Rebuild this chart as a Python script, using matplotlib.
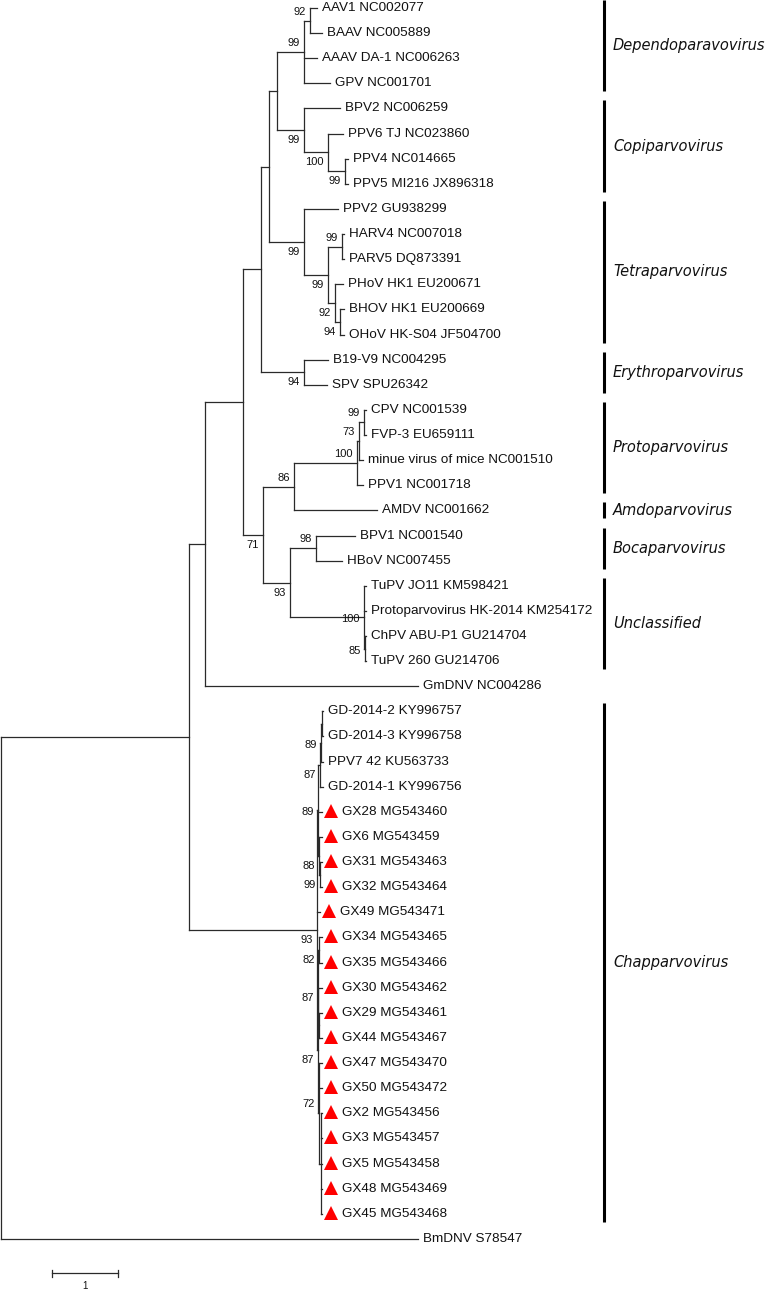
import matplotlib
matplotlib.use("Agg")
import matplotlib.pyplot as plt
from matplotlib.collections import LineCollection

# ---------------- data ----------------
# Tree in Newick format: branch lengths (substitutions/site),
# bootstrap supports as internal node labels.
NEWICK = (
    "(("
    "("
    "("
    "("
    "("
    "("
    "(('AAV1 NC002077':0.11,'BAAV NC005889':0.18)92:0.09,'AAAV DA-1 NC006263':0.20,'GPV NC001701':0.39)99:0.41,"
    "('BPV2 NC006259':0.55,('PPV6 TJ NC023860':0.23,('PPV4 NC014665':0.045,'PPV5 MI216 JX896318':0.045)99:0.26)100:0.36)99:0.41"
    "):0.12,"
    "('PPV2 GU938299':0.52,(('HARV4 NC007018':0.03,'PARV5 DQ873391':0.03)99:0.21,"
    "('PHoV HK1 EU200671':0.12,('BHOV HK1 EU200669':0.06,'OHoV HK-S04 JF504700':0.06)94:0.08)92:0.11)99:0.36)99:0.53"
    "):0.12,"
    "('B19-V9 NC004295':0.36,'SPV SPU26342':0.35)94:0.65"
    "):0.27,"
    "("
    "(((('CPV NC001539':0.03,'FVP-3 EU659111':0.03)99:0.08,'minue virus of mice NC001510':0.06)73:0.03,"
    "'PPV1 NC001718':0.09)100:0.95,'AMDV NC001662':1.26)86:0.47,"
    "(('BPV1 NC001540':0.59,'HBoV NC007455':0.39)98:0.39,"
    "('TuPV JO11 KM598421':0.03,'Protoparvovirus HK-2014 KM254172':0.03,"
    "('ChPV ABU-P1 GU214704':0.015,'TuPV 260 GU214706':0.015)85:0.015)100:1.12)93:0.41"
    ")71:0.30"
    "):0.58,"
    "'GmDNV NC004286':3.23"
    "):0.24,"
    "("
    "(((('GD-2014-2 KY996757':0.02,'GD-2014-3 KY996758':0.02):0.01,'PPV7 42 KU563733':0.03)89:0.015,"
    "'GD-2014-1 KY996756':0.045)87:0.03,"
    "'GX28 MG543460':0.06,('GX6 MG543459':0.045,('GX31 MG543463':0.03,'GX32 MG543464':0.03)99:0.015)88:0.015)89:0.015,"
    "'GX49 MG543471':0.045,"
    "((('GX34 MG543465':0.045,'GX35 MG543466':0.045)82:0.015,'GX30 MG543462':0.06,"
    "('GX29 MG543461':0.045,'GX44 MG543467':0.045):0.015)87:0.008,"
    "('GX47 MG543470':0.045,'GX50 MG543472':0.045,"
    "('GX2 MG543456':0.023,'GX3 MG543457':0.023,'GX5 MG543458':0.023,'GX48 MG543469':0.023,"
    "'GX45 MG543468':0.023):0.023)72:0.023)87:0.008"
    ")93:1.94"
    "):2.85,'BmDNV S78547':6.32);"
)

NEW_ISOLATES = ["GX28", "GX6", "GX31", "GX32", "GX49", "GX34", "GX35", "GX30", "GX29",
                "GX44", "GX47", "GX50", "GX2", "GX3", "GX5", "GX48", "GX45"]

CLADE_NAMES = ["Dependoparavovirus", "Copiparvovirus", "Tetraparvovirus", "Erythroparvovirus",
               "Protoparvovirus", "Amdoparvovirus", "Bocaparvovirus", "Unclassified", "Chapparvovirus"]
CLADE_FIRST = ["AAV1 NC002077", "BPV2 NC006259", "PPV2 GU938299", "B19-V9 NC004295",
               "CPV NC001539", "AMDV NC001662", "BPV1 NC001540", "TuPV JO11 KM598421",
               "GD-2014-2 KY996757"]
CLADE_LAST = ["GPV NC001701", "PPV5 MI216 JX896318", "OHoV HK-S04 JF504700", "SPV SPU26342",
              "PPV1 NC001718", "AMDV NC001662", "HBoV NC007455", "TuPV 260 GU214706",
              "GX45 MG543468"]

SCALE_LEN = 1
SCALE_LABEL = "1"

# support-label placement (style): keyed by first/last leaf token of node
ABOVE = {("AAV1", "BAAV"), ("AAV1", "GPV"), ("HARV4", "PARV5"), ("CPV", "FVP-3"),
         ("CPV", "minue"), ("CPV", "PPV1"), ("CPV", "AMDV"), ("BPV1", "HBoV"),
         ("GX47", "GX45")}
MID = {("TuPV", "TuPV"), ("ChPV", "TuPV"), ("GD-2014-2", "PPV7"), ("GD-2014-2", "GX32")}


# ---------------- parse ----------------
def parse_newick(s):
    pos = 0
    n_s = len(s)

    def node():
        nonlocal pos
        children = []
        if s[pos] == "(":
            pos += 1
            while True:
                children.append(node())
                if pos >= n_s:
                    raise ValueError("unbalanced newick")
                if s[pos] == ",":
                    pos += 1
                    continue
                if s[pos] == ")":
                    pos += 1
                    break
                raise ValueError("bad newick at %d: %r" % (pos, s[pos]))
        if s[pos] == "'":
            end = s.index("'", pos + 1)
            name = s[pos + 1:end]
            pos = end + 1
        else:
            st = pos
            while s[pos] not in ":,();":
                pos += 1
            name = s[st:pos]
        bl = 0.0
        if s[pos] == ":":
            pos += 1
            st = pos
            while s[pos] not in ",();":
                pos += 1
            bl = float(s[st:pos])
        return {"name": name, "bl": bl, "children": children}

    return node()


tree = parse_newick(NEWICK)

leaves = []


def layout(n, x0):
    n["x"] = x0 + n["bl"]
    if not n["children"]:
        n["y"] = len(leaves)
        leaves.append(n)
    else:
        for c in n["children"]:
            layout(c, n["x"])
        n["y"] = (n["children"][0]["y"] + n["children"][-1]["y"]) / 2
        c0, c1 = n["children"][0], n["children"][-1]
        n["first"] = c0["first"] if c0["children"] else c0["name"]
        n["last"] = c1["last"] if c1["children"] else c1["name"]


tree["bl"] = 0.0
layout(tree, 0.0)
leaf_y = {lf["name"]: lf["y"] for lf in leaves}

# ---------------- figure ----------------
W, H = 768, 1289
PXU = 66.0      # pixels per substitution unit
X0 = 1.0        # root x in pixels
Y0 = 8.0        # first leaf y in pixels
DY = 25.12      # pixels per leaf

fig = plt.figure(figsize=(W / 100, H / 100), dpi=100)
ax = fig.add_axes([0, 0, 1, 1])
ax.axis("off")
ax.set_xlim(-X0 / PXU, (W - X0) / PXU)
ax.set_ylim((H - Y0) / DY, -Y0 / DY)


def px(p):
    return p / PXU


def py(p):
    return p / DY


LINE_C = "#2a2a2a"
TEXT_C = "#111111"
segs = []


def draw(n, parent_x):
    if parent_x is not None:
        segs.append([(parent_x, n["y"]), (n["x"], n["y"])])
    if n["children"]:
        segs.append([(n["x"], n["children"][0]["y"]), (n["x"], n["children"][-1]["y"])])
        for c in n["children"]:
            draw(c, n["x"])
        if n["name"]:
            key = (n["first"].split()[0], n["last"].split()[0])
            if key in ABOVE:
                off = -9
            elif key in MID:
                off = 2
            else:
                off = 10
            ax.text(n["x"] - px(4), n["y"] + py(off), n["name"], ha="right", va="center",
                    fontsize=8, family="Liberation Sans", color=TEXT_C)
    else:
        tag = n["name"].split()[0]
        if tag in NEW_ISOLATES:
            ax.plot(n["x"] + px(9), n["y"] + py(-1), marker="^", color="#ff0000", markersize=9.5,
                    markeredgewidth=0, linestyle="none")
            lx = n["x"] + px(20)
        else:
            lx = n["x"] + px(5)
        ax.text(lx, n["y"], n["name"], ha="left", va="center", fontsize=9.7,
                family="Liberation Sans", color=TEXT_C)


draw(tree, None)
ax.add_collection(LineCollection(segs, colors=LINE_C, linewidths=0.9, capstyle="projecting"))

# clade bars
BAR_X = px(604 - X0)
for name, a, b in zip(CLADE_NAMES, CLADE_FIRST, CLADE_LAST):
    y1 = leaf_y[a] - py(8)
    y2 = leaf_y[b] + py(8)
    ax.plot([BAR_X, BAR_X], [y1, y2], color="black", lw=2.2, solid_capstyle="butt")
    ax.text(BAR_X + px(9), (y1 + y2) / 2, name, ha="left", va="center", fontsize=10.5,
            style="italic", family="DejaVu Sans", color=TEXT_C)

# scale bar
sx = px(52 - X0)
sy = py(1273 - Y0)
ax.plot([sx, sx + SCALE_LEN], [sy, sy], color=LINE_C, lw=0.9)
for xx in (sx, sx + SCALE_LEN):
    ax.plot([xx, xx], [sy - py(3.5), sy + py(3.5)], color=LINE_C, lw=0.9)
ax.text(sx + SCALE_LEN / 2, sy + py(13), SCALE_LABEL, ha="center", va="center",
        fontsize=7, family="Liberation Sans", color=TEXT_C)

fig.savefig("out.png", dpi=100, facecolor="white")
